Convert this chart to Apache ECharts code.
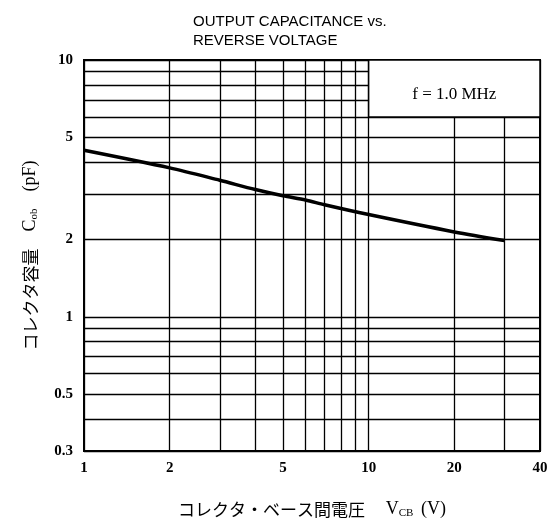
<!DOCTYPE html>
<html>
<head>
  <meta charset="utf-8">
  <title>Output capacitance vs. reverse voltage</title>
  <script src="https://fastly.jsdelivr.net/npm/echarts@6/dist/echarts.min.js"></script>
</head>
<body style="margin:0">
<div id="chart-container" style="position: relative; width: 550px; height: 524px; overflow: hidden;"></div>
<script type="text/javascript">
  // curve
  var vcb = [1, 2, 3, 4, 5, 6, 7, 10, 20, 30];
  var cob = [4.45, 3.8, 3.4, 3.13, 2.96, 2.85, 2.73, 2.5, 2.14, 1.98];

  // grid lines and labels
  var xGrid = [1, 2, 3, 4, 5, 6, 7, 8, 9, 10, 20, 30, 40];
  var yGrid = [0.3, 0.4, 0.5, 0.6, 0.7, 0.8, 0.9, 1, 2, 3, 4, 5, 6, 7, 8, 9, 10];
  var xLabels = [1, 2, 5, 10, 20, 40];
  var yLabels = [0.3, 0.5, 1, 2, 5, 10];

  var dom = document.getElementById('chart-container');
  var myChart = echarts.init(dom, null, { renderer: 'canvas' });

  var serif = '"Liberation Serif", "DejaVu Serif", serif';
  var jp = '"Noto Sans CJK JP", sans-serif';

  var option = {
    backgroundColor: '#fff',
    animation: false,
    title: {
      text: 'OUTPUT CAPACITANCE vs.\nREVERSE VOLTAGE',
      left: 188,
      top: 7,
      textStyle: {
        fontFamily: '"Liberation Sans", Arial, sans-serif',
        fontWeight: 'normal',
        fontSize: 15,
        lineHeight: 19,
        color: '#000'
      }
    },
    grid: {
      left: 84,
      right: 10,
      top: 60,
      bottom: 73,
      outerBoundsMode: 'none',
      show: true,
      borderColor: '#000',
      borderWidth: 2
    },
    xAxis: {
      type: 'log',
      logBase: 10,
      min: 1,
      max: 40,
      axisLine: { lineStyle: { color: '#000', width: 2 } },
      axisTick: { show: false, customValues: xGrid },
      axisLabel: {
        customValues: xLabels,
        color: '#000',
        fontFamily: serif,
        fontWeight: 'bold',
        fontSize: 15,
        margin: 10
      },
      splitLine: { show: true, lineStyle: { color: '#000', width: 1.3 } },
      name: 'コレクタ・ベース間電圧　 {i|V}{s|CB}  {i|(V)}',
      nameLocation: 'middle',
      nameGap: 49,
      nameTextStyle: {
        color: '#000',
        fontFamily: jp,
        fontSize: 17,
        rich: {
          i: { fontFamily: serif, fontSize: 18, color: '#000' },
          s: { fontFamily: serif, fontSize: 11, color: '#000', verticalAlign: 'bottom', padding: [8, 0, 0, 0] }
        }
      }
    },
    yAxis: {
      type: 'log',
      logBase: 10,
      min: 0.3,
      max: 10,
      axisLine: { lineStyle: { color: '#000', width: 2 } },
      axisTick: { show: false, customValues: yGrid },
      axisLabel: {
        customValues: yLabels,
        color: '#000',
        fontFamily: serif,
        fontWeight: 'bold',
        fontSize: 15,
        margin: 11
      },
      splitLine: { show: true, lineStyle: { color: '#000', width: 1.3 } },
      name: 'コレクタ容量　{i|C}{s|ob}　{i|(pF)}',
      nameLocation: 'middle',
      nameRotate: 90,
      nameGap: 44,
      nameTextStyle: {
        color: '#000',
        fontFamily: jp,
        fontSize: 17,
        rich: {
          i: { fontFamily: serif, fontSize: 18, color: '#000' },
          s: { fontFamily: serif, fontSize: 11, color: '#000', verticalAlign: 'bottom', padding: [8, 0, 0, 0] }
        }
      }
    },
    series: [
      {
        type: 'line',
        data: vcb.map(function (v, i) { return [v, cob[i]]; }),
        showSymbol: false,
        smooth: 0.3,
        lineStyle: { color: '#000', width: 3.5 },
        z: 5,
        markArea: {
          silent: true,
          itemStyle: { color: '#fff', borderColor: '#000', borderWidth: 1.5 },
          label: {
            show: true,
            position: 'inside',
            offset: [0, 6],
            formatter: 'f = 1.0 MHz',
            color: '#000',
            fontFamily: serif,
            fontSize: 17
          },
          data: [[{ coord: [10, 6] }, { coord: [40, 10] }]]
        }
      }
    ]
  };

  myChart.setOption(option);
  window.addEventListener('resize', myChart.resize);
</script>
</body>
</html>
